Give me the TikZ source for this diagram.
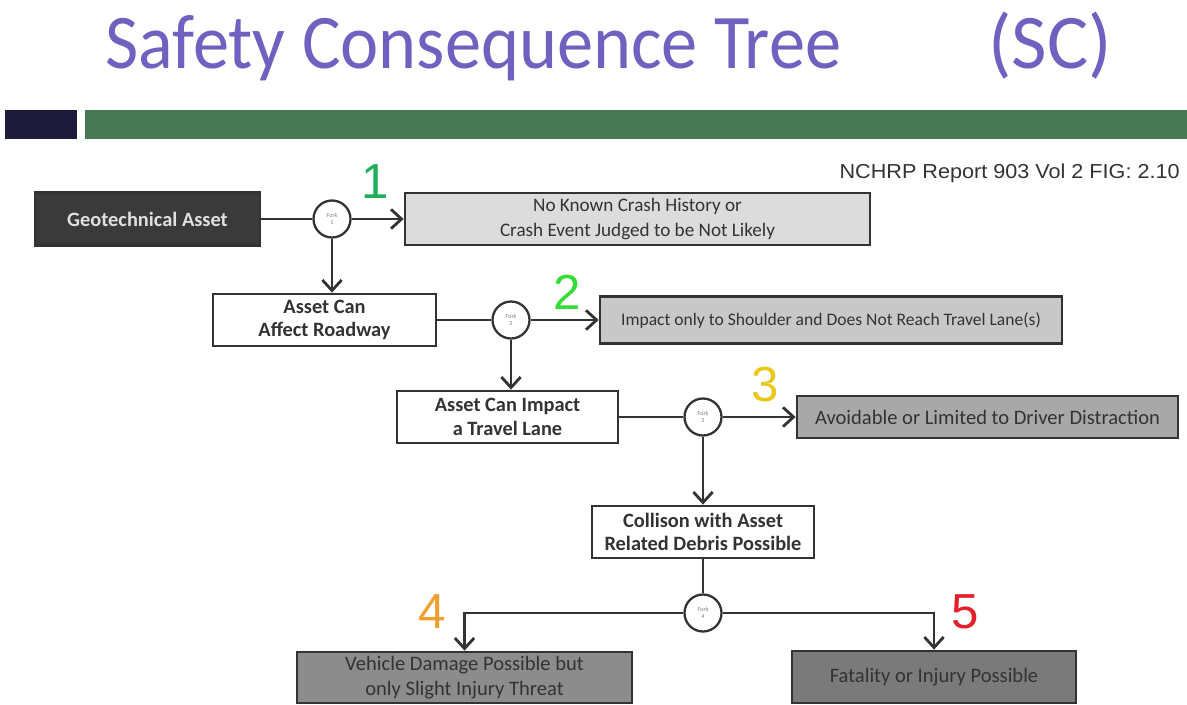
\documentclass[tikz,border=0pt]{standalone}
\usepackage{fontspec}
\setmainfont{Carlito}
\newfontfamily\arialfont{Liberation Sans}
\usetikzlibrary{arrows.meta}
\definecolor{titlecol}{RGB}{112,96,192}
\definecolor{navy}{RGB}{30,26,60}
\definecolor{bargreen}{RGB}{71,122,84}
\definecolor{dk}{RGB}{51,51,51}
\definecolor{geofill}{RGB}{58,58,58}
\definecolor{fillA}{RGB}{220,220,220}
\definecolor{fillB}{RGB}{200,200,200}
\definecolor{fillC}{RGB}{168,168,168}
\definecolor{fillD}{RGB}{140,140,140}
\definecolor{fillE}{RGB}{122,122,122}
\definecolor{nA}{RGB}{31,175,90}
\definecolor{nB}{RGB}{51,221,51}
\definecolor{nC}{RGB}{232,200,26}
\definecolor{nD}{RGB}{240,160,48}
\definecolor{nE}{RGB}{228,32,42}
\tikzset{
  boxbase/.style={draw=dk, line width=1.6pt, align=center, inner sep=2pt},
  whitebox/.style={boxbase, fill=white, text=dk, font=\fontsize{11.6}{13.5}\selectfont\bfseries},
  greybox/.style={boxbase, text=dk, font=\fontsize{11.7}{14}\selectfont},
  forknode/.style={circle, draw=dk, fill=white, line width=1.3pt, minimum size=0.74cm, inner sep=0pt, align=center, text=gray, font=\fontsize{3.5}{4}\selectfont},
  conn/.style={draw=dk, line width=1.4pt},
  arr/.style={conn, -{Straight Barb[length=6pt, width=11pt, line width=1.6pt]}},
  numlbl/.style={font=\arialfont\fontsize{28}{28}\selectfont, inner sep=0pt}
}
\begin{document}
\begin{tikzpicture}[x=0.02cm, y=-0.02cm]
\useasboundingbox (0,0) rectangle (1187,704);
% title
\node[anchor=base west, inner sep=0pt, text=titlecol, font=\fontsize{44}{44}\selectfont] (title) at (105,68) {\scalebox{0.936}[1]{Safety Consequence Tree}};
\node[anchor=base west, inner sep=0pt, text=titlecol, font=\fontsize{44}{44}\selectfont] (sc) at (988,68) {(SC)};
% bars
\fill[navy] (5,110) rectangle (77,139);
\fill[bargreen] (85,110) rectangle (1187,139);
% source
\node[anchor=base east, inner sep=0pt, text=dk, font=\arialfont\fontsize{11.5}{13}\selectfont] (src) at (1180,178) {\scalebox{1.07}[1]{NCHRP Report 903 Vol 2 FIG: 2.10}};
% boxes
\node[boxbase, fill=geofill, text=white!88!black, font=\fontsize{11.6}{13.5}\selectfont\bfseries, minimum width=4.5cm, minimum height=1.06cm] (geo) at (147.5,219) {Geotechnical Asset};
\node[greybox, fill=fillA, font=\fontsize{10.9}{14}\selectfont, minimum width=9.3cm, minimum height=1.04cm] (b1) at (637.5,219) {No Known Crash History or\\Crash Event Judged to be Not Likely};
\node[whitebox, minimum width=4.46cm, minimum height=1.04cm] (aff) at (324.5,320) {Asset Can\\Affect Roadway};
\node[greybox, fill=fillB, font=\fontsize{10}{12}\selectfont, minimum width=9.24cm, minimum height=0.94cm] (b2) at (831,320) {Impact only to Shoulder and Does Not Reach Travel Lane(s)};
\node[whitebox, minimum width=4.42cm, minimum height=1.04cm] (lane) at (507.5,417) {Asset Can Impact\\a Travel Lane};
\node[greybox, fill=fillC, minimum width=7.62cm, minimum height=0.84cm] (b3) at (987.5,417) {Avoidable or Limited to Driver Distraction};
\node[whitebox, minimum width=4.44cm, minimum height=1.04cm] (col) at (703,532) {Collison with Asset\\Related Debris Possible};
\node[greybox, fill=fillD, minimum width=6.7cm, minimum height=1.02cm] (b4) at (464.5,677.5) {Vehicle Damage Possible but\\only Slight Injury Threat};
\node[greybox, fill=fillE, minimum width=5.68cm, minimum height=1.04cm] (b5) at (934,677) {Fatality or Injury Possible};
% forks
\node[forknode] (f1) at (332,219) {Fork\\1};
\node[forknode] (f2) at (511,320) {Fork\\2};
\node[forknode] (f3) at (703,417) {Fork\\3};
\node[forknode] (f4) at (703,613) {Fork\\4};
% connectors
\draw[conn] (geo.east) -- (f1.west);
\draw[arr] (f1.east) -- (b1.west);
\draw[arr] (f1.south) -- (f1 |- aff.north);
\draw[conn] (aff.east) -- (f2.west);
\draw[arr] (f2.east) -- (b2.west);
\draw[arr] (f2.south) -- (f2 |- lane.north);
\draw[conn] (lane.east) -- (f3.west);
\draw[arr] (f3.east) -- (b3.west);
\draw[arr] (f3.south) -- (col.north);
\draw[conn] (col.south) -- (f4.north);
\draw[arr] (f4.west) -| (b4.north);
\draw[arr] (f4.east) -| (b5.north);
% numbers
\node[numlbl, text=nA] (n1) at (375,182) {1};
\node[numlbl, text=nB] (n2) at (567,292) {2};
\node[numlbl, text=nC] (n3) at (765,385) {3};
\node[numlbl, text=nD] (n4) at (432,612) {4};
\node[numlbl, text=nE] (n5) at (965,612) {5};
\end{tikzpicture}
\end{document}
